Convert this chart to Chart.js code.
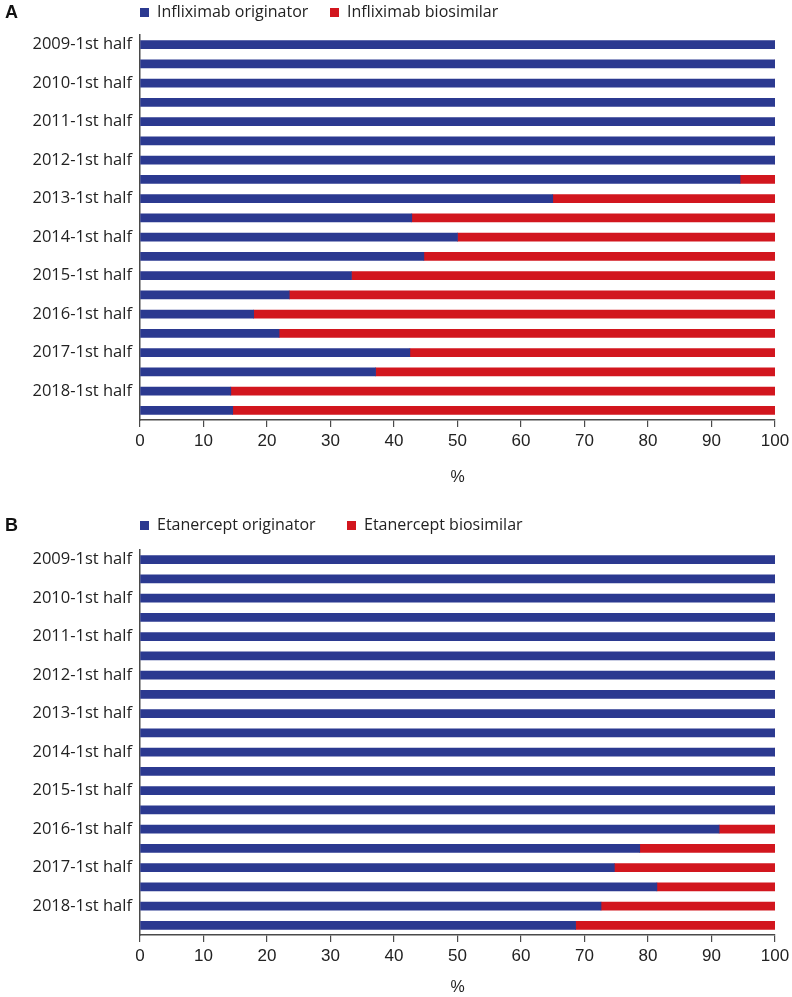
<!DOCTYPE html>
<html>
<head>
<meta charset="utf-8">
<script src="https://cdn.jsdelivr.net/npm/chart.js@4.4.1/dist/chart.umd.min.js"></script>
<style>
    html, body { margin: 0; padding: 0; background: #fff; overflow: hidden; }
    .panel { position: absolute; left: 0; width: 792px; }
    .letter { position: absolute; left: 5px; font: bold 18px "Liberation Sans", Arial, sans-serif; color: #111; }
    .legend { position: absolute; left: 140px; font: 16px "Open Sans", sans-serif; color: #222; white-space: nowrap; }
    .legend span.sw { display: inline-block; width: 9px; height: 9px; margin-right: 8px; vertical-align: 0px; }
    .legend span.item { position: absolute; top: 0; }
</style>
</head>
<body>
<div class="panel" id="panelA" style="top:0;height:500px;">
    <canvas id="chartA" width="792" height="500"></canvas>
    <div class="letter" style="top:2px;">A</div>
    <div class="legend" style="top:0px;">
        <span class="item" style="left:0"><span class="sw" style="background:#2B3990"></span>Infliximab originator</span>
        <span class="item" style="left:190px"><span class="sw" style="background:#D2161E"></span>Infliximab biosimilar</span>
    </div>
</div>
<div class="panel" id="panelB" style="top:515px;height:482px;">
    <canvas id="chartB" width="792" height="482"></canvas>
    <div class="letter" style="top:0px;">B</div>
    <div class="legend" style="top:-2px;">
        <span class="item" style="left:0"><span class="sw" style="background:#2B3990"></span>Etanercept originator</span>
        <span class="item" style="left:207px"><span class="sw" style="background:#D2161E"></span>Etanercept biosimilar</span>
    </div>
</div>
<script>
// Half-year periods (only the 1st halves get a label on the axis)
const periods = [
    '2009-1st half', '2009-2nd half', '2010-1st half', '2010-2nd half',
    '2011-1st half', '2011-2nd half', '2012-1st half', '2012-2nd half',
    '2013-1st half', '2013-2nd half', '2014-1st half', '2014-2nd half',
    '2015-1st half', '2015-2nd half', '2016-1st half', '2016-2nd half',
    '2017-1st half', '2017-2nd half', '2018-1st half', '2018-2nd half'
];

// Panel A - infliximab share (%)
const infliximabOriginator = [100, 100, 100, 100, 100, 100, 100, 94.5, 65.0, 42.8,
                              50.0, 44.7, 33.3, 23.5, 17.9, 21.9, 42.5, 37.1, 14.3, 14.6];
const infliximabBiosimilar = [0, 0, 0, 0, 0, 0, 0, 5.5, 35.0, 57.2,
                              50.0, 55.3, 66.7, 76.5, 82.1, 78.1, 57.5, 62.9, 85.7, 85.4];

// Panel B - etanercept share (%)
const etanerceptOriginator = [100, 100, 100, 100, 100, 100, 100, 100, 100, 100,
                              100, 100, 100, 100, 91.2, 78.7, 74.7, 81.4, 72.6, 68.6];
const etanerceptBiosimilar = [0, 0, 0, 0, 0, 0, 0, 0, 0, 0,
                              0, 0, 0, 0, 8.8, 21.3, 25.3, 18.6, 27.4, 31.4];

// x-axis ticks
const xTicks = [0, 10, 20, 30, 40, 50, 60, 70, 80, 90, 100];

const BLUE = '#2B3990';
const RED = '#D2161E';
const AXIS = '#4a4a4a';

/**
 * Build one stacked horizontal bar panel
 */
function createPanel(canvasId, labels, names, originator, biosimilar, opts) {
    const ctx = document.getElementById(canvasId).getContext('2d');

    return new Chart(ctx, {
        type: 'bar',
        data: {
            labels: labels,
            datasets: [
                {
                    label: names[0],
                    data: originator,
                    backgroundColor: BLUE,
                    borderWidth: 0,
                    barThickness: 8
                },
                {
                    label: names[1],
                    data: biosimilar,
                    backgroundColor: RED,
                    borderWidth: 0,
                    barThickness: 8
                }
            ]
        },
        options: {
            indexAxis: 'y',
            responsive: false,
            animation: false,
            layout: {
                padding: { top: 35, right: 17, bottom: 0, left: 0 }
            },
            plugins: {
                legend: { display: false },
                tooltip: { enabled: false }
            },
            scales: {
                x: {
                    stacked: true,
                    min: 0,
                    max: 100,
                    afterBuildTicks: scale => {
                        scale.ticks = xTicks.map(v => ({ value: v }));
                    },
                    afterFit: scale => {
                        scale.height = opts.xHeight;
                        // the "100" label may hang past the plot edge, as in the original
                        scale.paddingLeft = 0;
                        scale.paddingRight = 0;
                    },
                    grid: {
                        drawOnChartArea: false,
                        drawTicks: true,
                        tickLength: 7,
                        color: AXIS,
                        lineWidth: 1.2
                    },
                    border: {
                        display: true,
                        color: AXIS,
                        width: 1.5
                    },
                    ticks: {
                        color: '#222',
                        padding: 4,
                        maxRotation: 0,
                        font: {
                            family: 'Liberation Sans',
                            size: 17
                        }
                    },
                    title: {
                        display: true,
                        text: '%',
                        color: '#222',
                        padding: { top: 0, bottom: opts.titlePad },
                        font: {
                            family: 'Liberation Sans',
                            size: 16
                        }
                    }
                },
                y: {
                    stacked: true,
                    offset: true,
                    afterFit: scale => {
                        scale.width = 140;
                    },
                    grid: {
                        display: false
                    },
                    border: {
                        display: true,
                        color: AXIS,
                        width: 1.5
                    },
                    ticks: {
                        autoSkip: false,
                        padding: 0,
                        color: '#222',
                        font: {
                            family: 'Open Sans',
                            size: 16.5
                        },
                        callback: function (value, index) {
                            return index % 2 === 0 ? this.getLabelForValue(value) : '';
                        }
                    }
                }
            }
        }
    });
}

createPanel('chartA', periods, ['Infliximab originator', 'Infliximab biosimilar'],
    infliximabOriginator, infliximabBiosimilar, { xHeight: 80, titlePad: 13 });

createPanel('chartB', periods, ['Etanercept originator', 'Etanercept biosimilar'],
    etanerceptOriginator, etanerceptBiosimilar, { xHeight: 62, titlePad: 0 });
</script>
</body>
</html>
